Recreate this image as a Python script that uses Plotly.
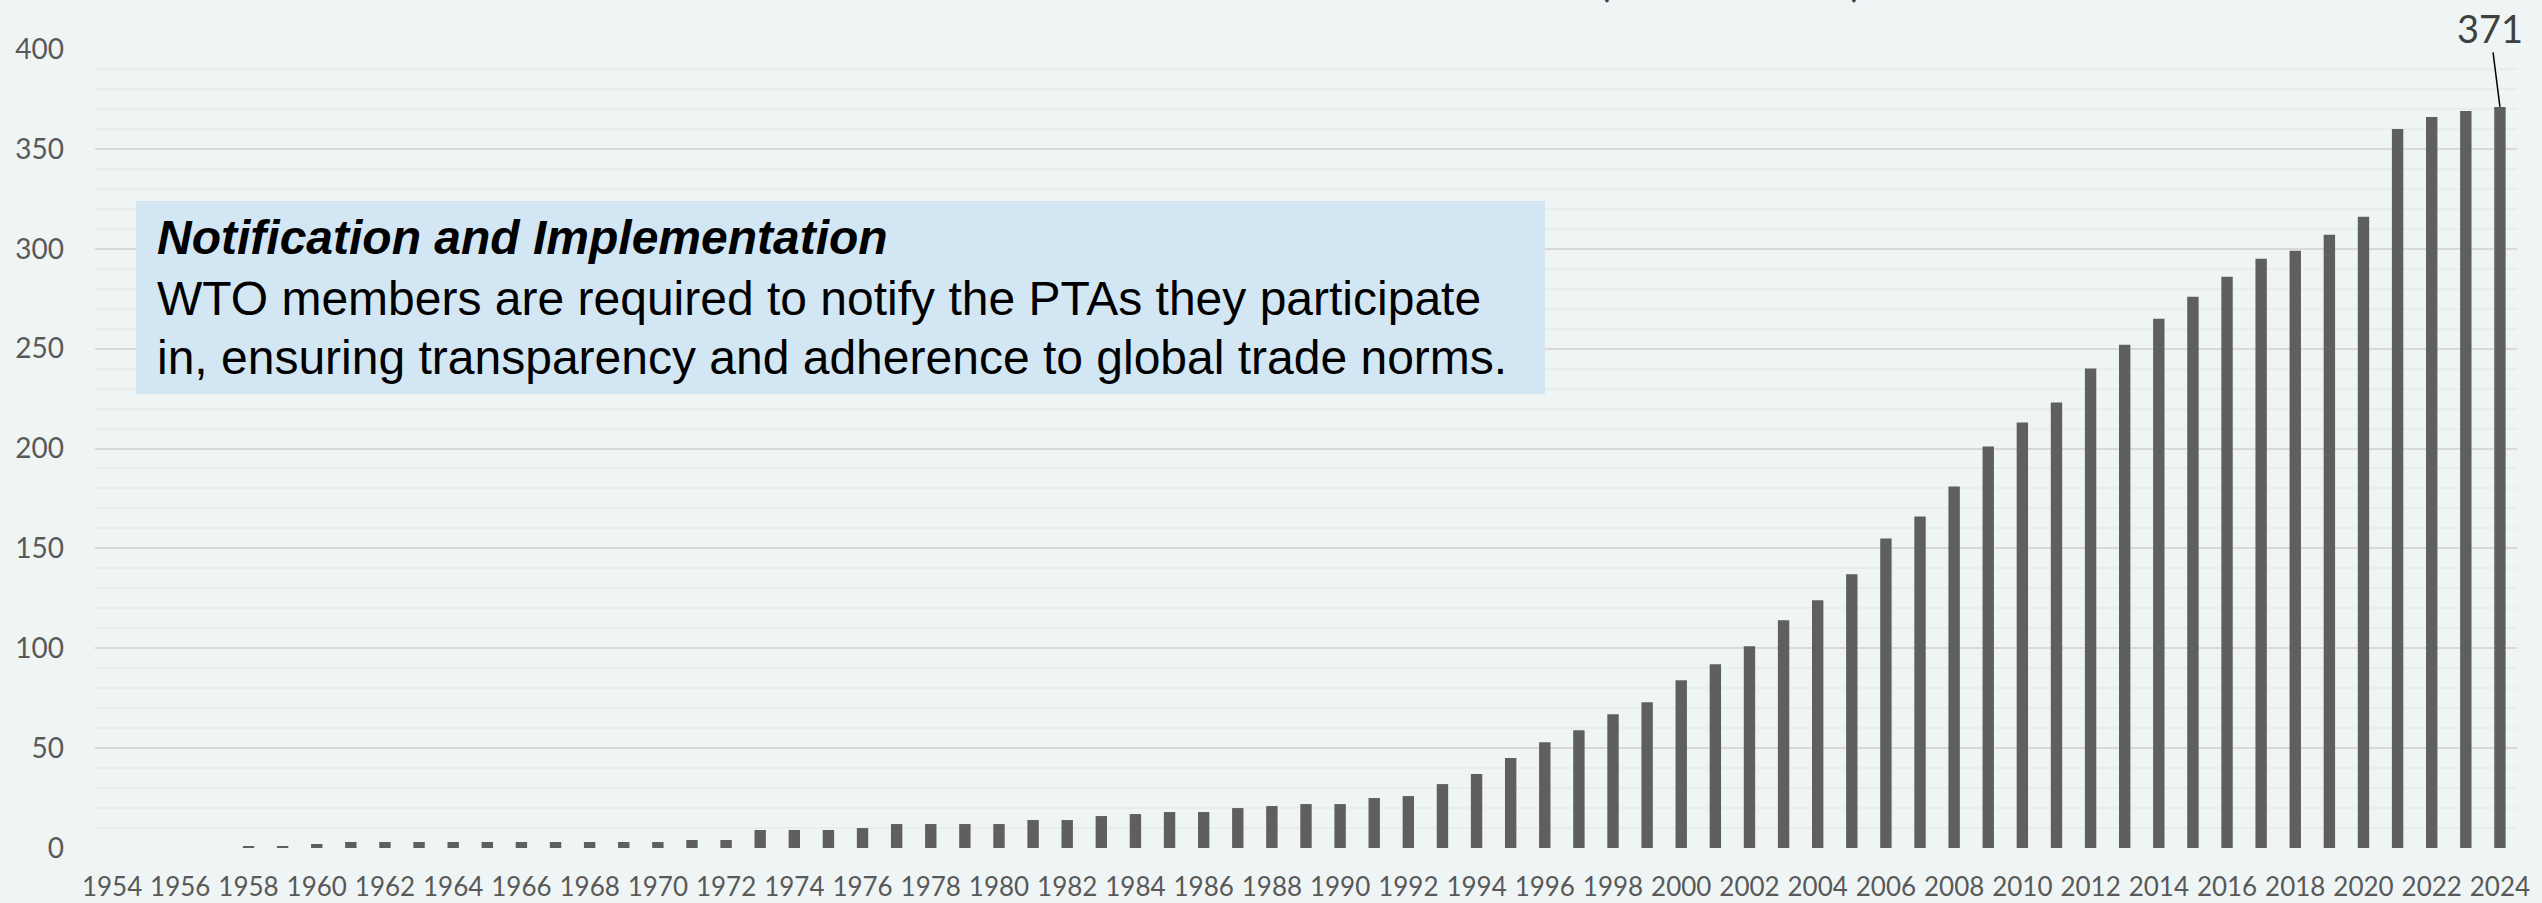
import plotly.graph_objects as go

years = list(range(1954, 2025))
ptas_in_force = [
    0, 0, 0, 0, 1, 1, 2, 3, 3, 3,        # 1954-1963
    3, 3, 3, 3, 3, 3, 3, 4, 4, 9,        # 1964-1973
    9, 9, 10, 12, 12, 12, 12, 14, 14, 16,  # 1974-1983
    17, 18, 18, 20, 21, 22, 22, 25, 26, 32,  # 1984-1993
    37, 45, 53, 59, 67, 73, 84, 92, 101, 114,  # 1994-2003
    124, 137, 155, 166, 181, 201, 213, 223, 240, 252,  # 2004-2013
    265, 276, 286, 295, 299, 307, 316, 360, 366, 369,  # 2014-2023
    371,  # 2024
]
y_ticks = [0, 50, 100, 150, 200, 250, 300, 350, 400]

box_title = "Notification and Implementation"
box_lines = [
    "WTO members are required to notify the PTAs they participate",
    "in, ensuring transparency and adherence to global trade norms.",
]
last_label = "371"
clipped_title = "(1954–2024)"

W, H = 2542, 903
ML, MR, MT, MB = 95, 25, 49, 55
PW, PH = W - ML - MR, H - MT - MB
BG = "#eff5f5"


def px_x(p):
    return (p - ML) / PW


def px_y(p):
    return (H - MB - p) / PH


axis_font = "Lato, sans-serif"

fig = go.Figure()
fig.add_trace(go.Bar(
    x=years, y=ptas_in_force,
    marker=dict(color="#5f5f5f", line=dict(width=0)),
    hoverinfo="x+y",
))

fig.update_layout(
    width=W, height=H,
    margin=dict(l=ML, r=MR, t=MT, b=MB, pad=0, autoexpand=False),
    paper_bgcolor=BG,
    plot_bgcolor=BG,
    bargap=0.666,
    showlegend=False,
    xaxis=dict(
        range=[1953.5, 2024.5], tickmode="linear", tick0=1954, dtick=2,
        showgrid=False, zeroline=False, showline=False, ticks="",
        tickangle=0, ticklabelstandoff=21, automargin=False,
        tickfont=dict(family=axis_font, size=26, color="#595959"),
    ),
    yaxis=dict(
        range=[0, 400], tickvals=y_ticks, ticks="",
        showgrid=True, gridcolor="#d9d9d9", gridwidth=2,
        zeroline=False, showline=False, automargin=False,
        minor=dict(dtick=10, showgrid=True, gridcolor="#e8eded", gridwidth=2),
        ticklabelstandoff=30,
        tickfont=dict(family=axis_font, size=28, color="#595959"),
    ),
    shapes=[dict(
        type="rect", xref="paper", yref="paper",
        x0=px_x(136), x1=px_x(1545), y0=px_y(394), y1=px_y(201),
        fillcolor="#d2e6f4", line=dict(width=0), layer="above",
    )],
)

body_font = "Liberation Sans, Arial, sans-serif"
box_texts = ["<b><i>" + box_title + "</i></b>"] + box_lines
box_centers = [237, 298, 357]
for t, cy in zip(box_texts, box_centers):
    fig.add_annotation(
        xref="paper", yref="paper", x=px_x(155), y=px_y(cy),
        xanchor="left", yanchor="middle", align="left", showarrow=False,
        text=t,
        font=dict(family=body_font, size=48, color="#000000"),
    )

fig.add_annotation(
    x=years[-1], y=ptas_in_force[-1], text=last_label,
    showarrow=True, arrowhead=0, arrowwidth=1.5, arrowcolor="#000000",
    ax=-10, ay=-79, standoff=0,
    font=dict(family=axis_font, size=38, color="#404040"),
)

fig.add_annotation(
    xref="paper", yref="paper", x=px_x(1730), y=1,
    xanchor="center", yanchor="middle", yshift=71, showarrow=False,
    text=clipped_title,
    font=dict(family=axis_font, size=46, color="#404040"),
)

fig.write_html(
    "out.html",
    config={"displayModeBar": False},
    post_script=(
        "document.body.style.margin='0';"
        "document.body.style.background='" + BG + "';"
    ),
)
